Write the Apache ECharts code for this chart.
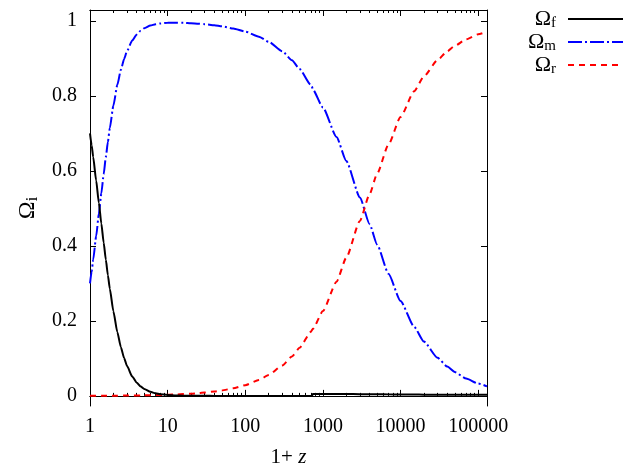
<!DOCTYPE html>
<html>
<head>
<meta charset="utf-8">
<script src="https://cdn.jsdelivr.net/npm/echarts@6/dist/echarts.min.js"></script>
<style>
html,body{margin:0;padding:0;background:#fff;}
#chart{width:624px;height:473px;}
</style>
</head>
<body>
<div id="chart"></div>
<script>
// 1+z sample points
var onePlusZ = [1, 1.05, 1.1, 1.2, 1.3, 1.4, 1.5, 1.6, 1.7, 1.8, 2, 2.25, 2.5, 2.75, 3, 3.5, 4, 4.5, 5, 6, 7, 8, 10, 13, 16, 20, 25, 30, 40, 50, 70, 100, 150, 200, 300, 400, 500, 700, 720, 745, 1000, 1500, 2000, 3000, 4000, 5000, 7000, 10000, 15000, 20000, 30000, 40000, 50000, 70000, 100000, 130000];
var omegaF = [0.6999, 0.6683, 0.6367, 0.5744, 0.5150, 0.4595, 0.4087, 0.3628, 0.3219, 0.2857, 0.2257, 0.1699, 0.1299, 0.1008, 0.0795, 0.0516, 0.0351, 0.0249, 0.0183, 0.0107, 0.0067, 0.0045, 0.0023, 0.0011, 0.0006, 0.0003, 0.0002, 0.0001, 0.0000, 0.0000, 0.0000, 0.0000, 0.0000, 0.0000, 0.0000, 0.0000, 0.0000, 0.0000, 0.0000, 0.0050, 0.0050, 0.0050, 0.0050, 0.0045, 0.0043, 0.0042, 0.0040, 0.0038, 0.0035, 0.0033, 0.0032, 0.0030, 0.0030, 0.0030, 0.0030, 0.0030];
var omegaM = [0.3000, 0.3316, 0.3632, 0.4254, 0.4849, 0.5403, 0.5911, 0.6369, 0.6778, 0.7140, 0.7738, 0.8295, 0.8695, 0.8985, 0.9197, 0.9475, 0.9637, 0.9738, 0.9803, 0.9876, 0.9912, 0.9931, 0.9948, 0.9951, 0.9948, 0.9939, 0.9926, 0.9912, 0.9883, 0.9855, 0.9798, 0.9714, 0.9578, 0.9444, 0.9189, 0.8947, 0.8718, 0.8293, 0.8252, 0.8162, 0.7689, 0.6904, 0.6265, 0.5289, 0.4575, 0.4031, 0.3256, 0.2528, 0.1841, 0.1448, 0.1015, 0.0781, 0.0635, 0.0462, 0.0328, 0.0254];
var omegaR = [0.0001, 0.0001, 0.0001, 0.0002, 0.0002, 0.0002, 0.0003, 0.0003, 0.0003, 0.0004, 0.0005, 0.0006, 0.0006, 0.0007, 0.0008, 0.0010, 0.0011, 0.0013, 0.0014, 0.0017, 0.0020, 0.0023, 0.0029, 0.0038, 0.0047, 0.0059, 0.0073, 0.0088, 0.0116, 0.0145, 0.0202, 0.0286, 0.0423, 0.0556, 0.0811, 0.1053, 0.1282, 0.1707, 0.1748, 0.1788, 0.2261, 0.3046, 0.3685, 0.4666, 0.5382, 0.5927, 0.6704, 0.7434, 0.8124, 0.8519, 0.8953, 0.9189, 0.9335, 0.9508, 0.9642, 0.9716];
var xMajorTicks = [1, 10, 100, 1000, 10000, 100000];
var xMinorTicks = [2,3,4,5,6,7,8,9,20,30,40,50,60,70,80,90,200,300,400,500,600,700,800,900,2000,3000,4000,5000,6000,7000,8000,9000,20000,30000,40000,50000,60000,70000,80000,90000];
var yTicks = [0, 0.2, 0.4, 0.6, 0.8, 1];

function pairs(ys){ return onePlusZ.map(function(x,i){ return [x, ys[i]]; }); }

var FONT = '"Liberation Serif", "Times New Roman", serif';
var AX = '#000';
var chart = echarts.init(document.getElementById('chart'), null, {renderer:'canvas'});

function xAx(pos, ticks, len, labels){
  return {
    type:'log', logBase:10, min:1, max:130000, position:pos,
    axisLine:{show:true, lineStyle:{color:AX, width:1}},
    axisTick:{show:true, inside:true, length:len, customValues:ticks, lineStyle:{color:AX, width:1}},
    axisLabel:{show:labels, customValues:ticks, margin:11, color:'#000', fontFamily:FONT, fontSize:20,
      formatter:function(v){ return String(Math.round(v)); }},
    splitLine:{show:false}, minorTick:{show:false}, minorSplitLine:{show:false}
  };
}
var xAxes = [xAx('bottom', xMajorTicks, 6, true), xAx('bottom', xMinorTicks, 3, false), xAx('top', xMajorTicks, 6, false), xAx('top', xMinorTicks, 3, false)];
xAxes[0].name = '{n|1+ }{i|z}';
xAxes[0].nameLocation = 'middle';
xAxes[0].nameGap = 41;
xAxes[0].nameTextStyle = {color:'#000', fontFamily:FONT, fontSize:21, rich:{n:{fontFamily:FONT, fontSize:21, color:'#000'}, i:{fontFamily:FONT, fontSize:21, fontStyle:'italic', color:'#000'}}};

function yAx(pos, labels){
  return {
    type:'value', min:-0.027, max:1.029, position:pos,
    axisLine:{show:true, lineStyle:{color:AX, width:1}},
    axisTick:{show:true, inside:true, length:6, customValues:yTicks, lineStyle:{color:AX, width:1}},
    axisLabel:{show:labels, customValues:yTicks, margin:13, color:'#000', fontFamily:FONT, fontSize:20,
      formatter:function(v){ return String(Math.round(v*10)/10); }},
    splitLine:{show:false}
  };
}
var yAxes = [yAx('left', true), yAx('right', false)];
yAxes[0].name = '{a|Ω}{s|i}';
yAxes[0].nameLocation = 'middle';
yAxes[0].nameGap = 47;
yAxes[0].nameRotate = 90;
yAxes[0].nameTextStyle = {color:'#000', fontFamily:FONT, fontSize:23, rich:{a:{fontFamily:FONT, fontSize:24, color:'#000'}, s:{fontFamily:FONT, fontSize:16, color:'#000', padding:[11,0,0,0]}}};

var option = {
  animation:false,
  backgroundColor:'#fff',
  grid:{left:90, right:137, top:10, bottom:66, containLabel:false},
  xAxis:xAxes,
  yAxis:yAxes,
  legend:{
    right:0, top:8, orient:'vertical', align:'right', padding:0,
    itemWidth:55, itemHeight:14, itemGap:0,
    itemStyle:{opacity:0},
    textStyle:{fontFamily:FONT, fontSize:21, color:'#000', padding:[0,7,0,0],
      rich:{a:{fontFamily:FONT, fontSize:22, color:'#000'}, s:{fontFamily:FONT, fontSize:15, color:'#000', padding:[9,0,0,0]}}},
    formatter:function(name){ return '{a|Ω}{s|' + name + '}'; },
    data:['f','m','r']
  },
  series:[
    {name:'f', type:'line', data:pairs(omegaF), showSymbol:false, symbol:'none', smooth:0.2, smoothMonotone:'x',
      lineStyle:{color:'#000', width:2, type:'solid'}, itemStyle:{color:'#000'}, z:3},
    {name:'m', type:'line', data:pairs(omegaM), showSymbol:false, symbol:'none', smooth:0.2, smoothMonotone:'x',
      lineStyle:{color:'#0000ff', width:2, type:[14,3,2,3]}, itemStyle:{color:'#0000ff'}, z:2},
    {name:'r', type:'line', data:pairs(omegaR), showSymbol:false, symbol:'none', smooth:0.2, smoothMonotone:'x',
      lineStyle:{color:'#ff0000', width:2, type:[6,5]}, itemStyle:{color:'#ff0000'}, z:2}
  ]
};
chart.setOption(option);
</script>
</body>
</html>
